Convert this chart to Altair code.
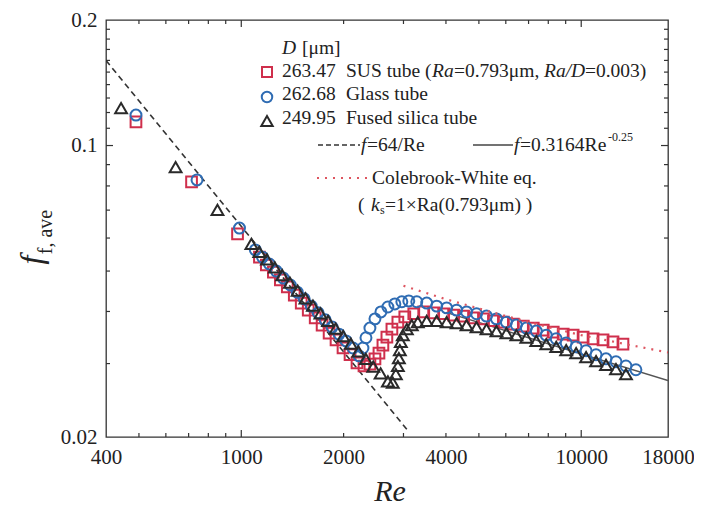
import altair as alt
import pandas as pd

FONT = "Liberation Serif"
W, H = 562, 417

# ---- data ----
sq_re = [490, 714, 975, 1131, 1185, 1243, 1303, 1366, 1432, 1501, 1574, 1650, 1729, 1813, 1900, 1992,
         2089, 2190, 2296, 2390, 2473, 2541, 2610, 2681, 2774, 2888, 3027, 3217, 3441, 3681, 3938, 4213,
         4507, 4822, 5158, 5518, 5903, 6316, 6756, 7228, 7733, 8272, 8850, 9467, 10128, 10835, 11592,
         12401, 13267]
sq_f = [0.1139, 0.0818, 0.0614, 0.0540, 0.0517, 0.0497, 0.0476, 0.0458, 0.0438, 0.0419, 0.0403, 0.0386,
        0.0371, 0.0355, 0.0342, 0.0327, 0.0315, 0.0301, 0.0296, 0.0299, 0.0308, 0.0318, 0.0332, 0.0347,
        0.0363, 0.0377, 0.0388, 0.0395, 0.0399, 0.0397, 0.0395, 0.0392, 0.0390, 0.0386, 0.0384, 0.0380,
        0.0377, 0.0373, 0.0369, 0.0365, 0.0361, 0.0357, 0.0353, 0.0351, 0.0347, 0.0344, 0.0342, 0.0338,
        0.0334]

ci_re = [490, 741, 988, 1100, 1154, 1209, 1268, 1329, 1394, 1461, 1531, 1606, 1683, 1765, 1850, 1939,
         2033, 2131, 2220, 2280, 2327, 2390, 2473, 2575, 2699, 2830, 2967, 3110, 3283, 3511, 3757, 4019,
         4299, 4599, 4920, 5264, 5631, 6024, 6445, 6895, 7376, 7891, 8442, 9031, 9661, 10335, 11057,
         11829, 12655, 13538, 14483]
ci_f = [0.1183, 0.0827, 0.0634, 0.0562, 0.0540, 0.0520, 0.0500, 0.0481, 0.0463, 0.0445, 0.0429, 0.0412,
        0.0397, 0.0382, 0.0367, 0.0353, 0.0340, 0.0327, 0.0313, 0.0327, 0.0346, 0.0365, 0.0384, 0.0399,
        0.0410, 0.0417, 0.0422, 0.0424, 0.0422, 0.0419, 0.0412, 0.0408, 0.0403, 0.0399, 0.0395, 0.0390,
        0.0384, 0.0377, 0.0371, 0.0365, 0.0359, 0.0351, 0.0344, 0.0336, 0.0329, 0.0322, 0.0315, 0.0308,
        0.0303, 0.0296, 0.0290]

tr_re = [443, 641, 851, 1071, 1130, 1190, 1255, 1320, 1390, 1465, 1545, 1625, 1710, 1800, 1895, 1995,
         2100, 2210, 2325, 2445, 2570, 2700, 2790, 2849, 2888, 2908, 2927, 2947, 2987, 3069, 3174, 3305,
         3511, 3757, 4019, 4299, 4599, 4920, 5264, 5631, 6024, 6445, 6895, 7376, 7891, 8442, 9031, 9661,
         10335, 11057, 11829, 12655, 13538]
tr_f = [0.123, 0.0888, 0.0701, 0.0581, 0.0556, 0.0533, 0.0510, 0.0489, 0.0469, 0.0449, 0.0430, 0.0413,
        0.0396, 0.0380, 0.0364, 0.0349, 0.0335, 0.0321, 0.0308, 0.0295, 0.0284, 0.0272, 0.0270, 0.0283,
        0.0296, 0.0309, 0.0323, 0.0338, 0.0351, 0.0363, 0.0371, 0.0377, 0.0380, 0.0380, 0.0377, 0.0375,
        0.0371, 0.0367, 0.0363, 0.0359, 0.0355, 0.0351, 0.0346, 0.0340, 0.0334, 0.0329, 0.0323, 0.0318,
        0.0311, 0.0304, 0.0298, 0.0291, 0.0283]

lam_re = [400, 3100]
lam_f = [0.16, 0.02065]
bla_re = [4000, 18000]
bla_f = [0.03979, 0.02732]
cw_re = [3000, 4000, 6000, 8000, 10000, 14000, 18000]
cw_f = [0.0461, 0.0428, 0.0390, 0.0367, 0.0351, 0.0332, 0.0319]

x_labels = [400, 1000, 2000, 4000, 10000, 18000]
y_labels = [0.02, 0.1, 0.2]
x_minor = [500, 600, 700, 800, 900, 2000, 3000, 4000, 5000, 6000, 7000, 8000, 9000]
x_major = [1000, 10000]
y_minor = [0.03, 0.04, 0.05, 0.06, 0.07, 0.08, 0.09, 0.11, 0.12, 0.13, 0.14, 0.15, 0.16, 0.17, 0.18, 0.19]
y_major = [0.1]

RED = "#cf2f4c"
BLUE = "#2f6cb3"
BLACK = "#2a2a2a"
CWRED = "#dd5560"
TXT = "#222222"

xs = alt.Scale(type="log", domain=[400, 18000], nice=False)
ys = alt.Scale(type="log", domain=[0.02, 0.2], nice=False)

x_axis = alt.Axis(values=x_labels, format="d", ticks=False, domain=False, grid=False, labelFlush=False,
                  labelFont=FONT, labelFontSize=21, labelPadding=9, labelColor=TXT, title=None,
                  labelOverlap=False)
y_axis = alt.Axis(values=y_labels, format="~g", ticks=False, domain=False, grid=False,
                  labelFont=FONT, labelFontSize=21, labelPadding=9, labelColor=TXT, title=None,
                  labelOverlap=False)


def X(field):
    return alt.X(field, scale=xs, axis=x_axis)


def Y(field):
    return alt.Y(field, scale=ys, axis=y_axis)


ONE = pd.DataFrame({"k": [0]})


def series(re, f, shape, color, size):
    return alt.Chart(pd.DataFrame({"Re": re, "f": f})).mark_point(
        shape=shape, filled=False, stroke=color, strokeWidth=2, size=size, opacity=1
    ).encode(x=X("Re:Q"), y=Y("f:Q"))


def curve(re, f, color, width, dash=None):
    kw = dict(color=color, strokeWidth=width, clip=True)
    if dash:
        kw["strokeDash"] = dash
    return alt.Chart(pd.DataFrame({"Re": re, "f": f})).mark_line(**kw).encode(x=X("Re:Q"), y=Y("f:Q"))


def xticks(vals, ln):
    d = pd.DataFrame({"v": vals})
    b = alt.Chart(d).mark_rule(color="#333", strokeWidth=1.2).encode(
        x=X("v:Q"), y=alt.value(H), y2=alt.value(H - ln))
    t = alt.Chart(d).mark_rule(color="#333", strokeWidth=1.2).encode(
        x=X("v:Q"), y=alt.value(0), y2=alt.value(ln))
    return [b, t]


def yticks(vals, ln):
    d = pd.DataFrame({"v": vals})
    l = alt.Chart(d).mark_rule(color="#333", strokeWidth=1.2).encode(
        y=Y("v:Q"), x=alt.value(0), x2=alt.value(ln))
    r = alt.Chart(d).mark_rule(color="#333", strokeWidth=1.2).encode(
        y=Y("v:Q"), x=alt.value(W), x2=alt.value(W - ln))
    return [l, r]


def txt(s, x, y, size=19.5, style="normal", align="left", color=TXT, angle=0, baseline="middle"):
    return alt.Chart(ONE).mark_text(text=s, font=FONT, fontSize=size, fontStyle=style, align=align,
                                    baseline=baseline, color=color, angle=angle).encode(
        x=alt.value(x), y=alt.value(y))


def seg(x1, x2, y, color, width, dash=None):
    kw = dict(color=color, strokeWidth=width)
    if dash:
        kw["strokeDash"] = dash
    return alt.Chart(ONE).mark_rule(**kw).encode(x=alt.value(x1), x2=alt.value(x2), y=alt.value(y))


def sym(shape, color, x, y, size):
    return alt.Chart(ONE).mark_point(shape=shape, filled=False, stroke=color, strokeWidth=2,
                                     size=size, opacity=1).encode(x=alt.value(x), y=alt.value(y))


layers = []
layers += xticks(x_minor, 4) + xticks(x_major, 7) + yticks(y_minor, 4) + yticks(y_major, 7)
layers += [
    curve(lam_re, lam_f, "#333", 1.6, [6, 4]),
    curve(bla_re, bla_f, "#555", 1.4),
    series(sq_re, sq_f, "square", RED, 115),
    series(ci_re, ci_f, "circle", BLUE, 120),
    series(tr_re, tr_f, "triangle-up", BLACK, 140),
    curve(cw_re, cw_f, CWRED, 2.2, [2, 6]),
]

# legend
layers += [
    txt("D", 176, 28, style="italic"),
    txt("[\u03bcm]", 196, 28),
    sym("square", RED, 161, 52, 100),
    sym("circle", BLUE, 161, 77, 110),
    sym("triangle-up", BLACK, 161, 101, 130),
    txt("263.47", 176, 51),
    txt("262.68", 176, 74),
    txt("249.95", 176, 98),
    txt("SUS tube (", 240, 51),
    txt("Ra", 326, 51, style="italic"),
    txt("=0.793\u03bcm,", 348, 51),
    txt("Ra/D", 438, 51, style="italic"),
    txt("=0.003)", 479, 51),
    txt("Glass tube", 240, 74),
    txt("Fused silica tube", 240, 98),
    seg(212, 254, 125, "#333", 1.6, [5, 3]),
    txt("f", 255, 125, style="italic"),
    txt("=64/Re", 261, 125),
    seg(367, 407, 125, "#444", 1.5),
    txt("f", 408, 125, style="italic"),
    txt("=0.3164Re", 414, 125),
    txt("-0.25", 502, 117, size=12),
    seg(211, 264, 158, CWRED, 2.2, [2, 6]),
    txt("Colebrook-White eq.", 266, 158),
    txt("(", 252, 185),
    txt("k", 265, 185, style="italic"),
    txt("s", 274, 190, size=12),
    txt("=1\u00d7Ra(0.793\u03bcm) )", 279, 185),
    # axis titles
    txt("Re", 284, 472, size=30, style="italic", align="center"),
    txt("f", -74, 240, size=32, style="italic", align="center", angle=270),
    txt("f, ave", -60, 212, size=20, align="center", angle=270),
]

chart = alt.layer(*layers).properties(
    width=W, height=H,
    autosize=alt.AutoSizeParams(type="none"),
    padding={"left": 98, "top": 12, "right": 26, "bottom": 73},
    background="white",
).configure_view(stroke="#333", strokeWidth=1.3)

chart.save("out.html", embed_options={"renderer": "svg", "actions": False})
